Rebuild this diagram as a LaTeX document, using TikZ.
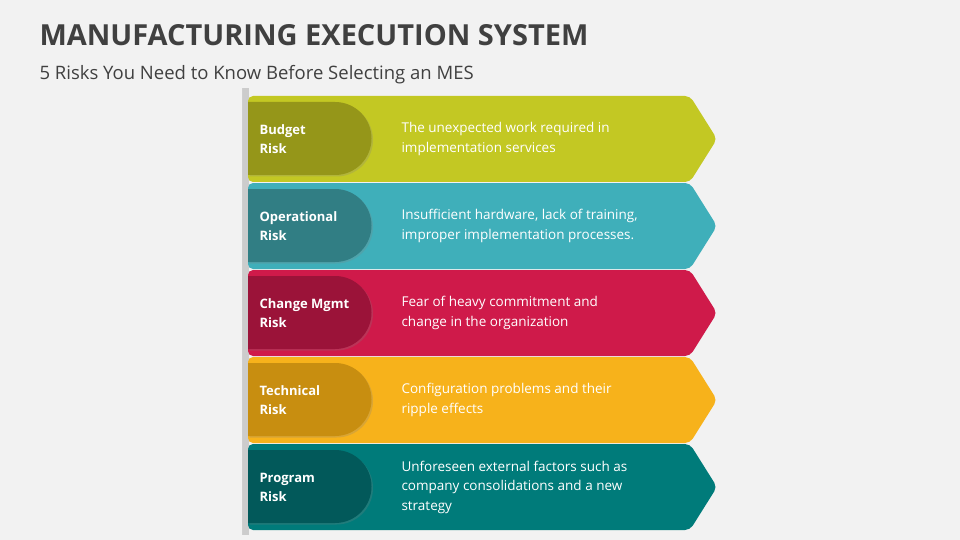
\documentclass[tikz,border=0pt]{standalone}
\usepackage{fontspec}
\setmainfont{Open Sans}
\usetikzlibrary{shadows}
\definecolor{bg}{HTML}{F2F2F2}
\definecolor{ttl}{HTML}{404040}
\definecolor{c1}{HTML}{C3C823}\definecolor{i1}{HTML}{959619}
\definecolor{c2}{HTML}{3FAFBA}\definecolor{i2}{HTML}{317E84}
\definecolor{c3}{HTML}{CF1A4A}\definecolor{i3}{HTML}{9B1339}
\definecolor{c4}{HTML}{F7B21B}\definecolor{i4}{HTML}{C88E10}
\definecolor{c5}{HTML}{007B7A}\definecolor{i5}{HTML}{02595A}
\tikzset{
 lbl/.style={anchor=west,text=white,font=\fontsize{13}{19}\selectfont\bfseries,align=left},
 desc/.style={anchor=west,text=white,font=\fontsize{13.5}{19.5}\selectfont,align=left},
}
\newcommand{\riskrow}[5]{%
 \fill[#2, rounded corners=5pt] (248,#1) -- (690,#1) -- (717,#1+43) -- (690,#1+86) -- (248,#1+86) -- cycle;
 \fill[#3, drop shadow={opacity=0.25,shadow xshift=1.5pt,shadow yshift=-1.5pt}] (248,#1+6) -- (335,#1+6) arc[start angle=-90,end angle=90,radius=36.5] -- (248,#1+79) -- cycle;
 \node[lbl] (l#1) at (256,#1+43) {#4};
 \node[desc] (d#1) at (398,#1+43) {#5};
}
\begin{document}
\begin{tikzpicture}[x=1pt,y=-1pt]
\fill[bg] (0,0) rectangle (960,540);
\useasboundingbox (0,0) rectangle (960,540);
\node[anchor=west,text=ttl,font=\fontsize{29}{34}\selectfont\bfseries] (title) at (36,35) {MANUFACTURING EXECUTION SYSTEM};
\node[anchor=west,text=ttl,font=\fontsize{18.5}{22}\selectfont] (sub) at (36,75) {5 Risks You Need to Know Before Selecting an MES};
\fill[gray!40, drop shadow={opacity=0.3,shadow xshift=-1.5pt,shadow yshift=0pt}] (243,88) rectangle (249,535);
\riskrow{96}{c1}{i1}{Budget\\Risk}{The unexpected work required in\\implementation services}
\riskrow{183}{c2}{i2}{Operational\\Risk}{Insufficient hardware, lack of training,\\improper implementation processes.}
\riskrow{270}{c3}{i3}{Change Mgmt\\Risk}{Fear of heavy commitment and\\change in the organization}
\riskrow{357}{c4}{i4}{Technical\\Risk}{Configuration problems and their\\ripple effects}
\riskrow{444}{c5}{i5}{Program\\Risk}{Unforeseen external factors such as\\company consolidations and a new\\strategy}
\end{tikzpicture}
\end{document}
